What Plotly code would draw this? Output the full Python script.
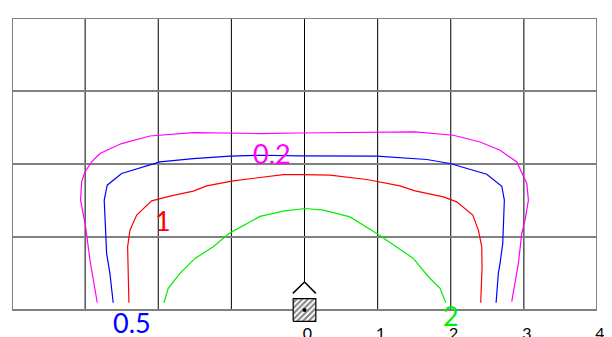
import plotly.graph_objects as go

# contour levels (label, colour, label position)
levels = ["0.2", "0.5", "1", "2"]
colors = ["#ff00ff", "#0000ff", "#ff0000", "#00ee00"]

x_02 = [-2.834, -2.934, -2.993, -3.062, -3.048, -3.003, -2.911, -2.798, -2.501, -2.114, -1.521, -0.609,
        -0.062, 0.988, 1.306, 1.512, 2.036, 2.401, 2.674, 2.903, 3.040, 3.062, 3.016, 2.971, 2.925, 2.834]
y_02 = [0.10, 0.684, 1.14, 1.505, 1.755, 1.892, 2.029, 2.144, 2.280, 2.384, 2.431, 2.417,
        2.425, 2.431, 2.439, 2.439, 2.394, 2.302, 2.189, 2.029, 1.733, 1.505, 1.231, 1.049, 0.639, 0.114]

x_05 = [-2.616, -2.661, -2.706, -2.729, -2.739, -2.698, -2.501, -1.977, -1.521, -1.019, -0.609,
        -0.062, 0.988, 1.672, 1.990, 2.492, 2.698, 2.733, 2.711, 2.674, 2.651, 2.620]
y_05 = [0.10, 0.502, 0.776, 1.231, 1.505, 1.710, 1.870, 2.029, 2.075, 2.107, 2.120,
        2.111, 2.107, 2.062, 2.007, 1.860, 1.696, 1.505, 0.912, 0.639, 0.502, 0.10]

x_1 = [-2.401, -2.419, -2.387, -2.295, -2.090, -1.840, -1.521, -1.338, -0.974, -0.609, -0.290,
       -0.016, 0.349, 0.851, 1.306, 1.512, 1.899, 2.082, 2.301, 2.378, 2.424, 2.428, 2.410]
y_1 = [0.10, 0.866, 1.094, 1.300, 1.495, 1.560, 1.628, 1.700, 1.769, 1.815, 1.856,
       1.856, 1.847, 1.788, 1.700, 1.632, 1.550, 1.482, 1.300, 1.094, 0.866, 0.592, 0.10]

x_2 = [-1.922, -1.863, -1.703, -1.498, -1.248, -1.019, -0.609, -0.290, 0.007, 0.257, 0.622,
       0.988, 1.488, 1.694, 1.854, 1.932]
y_2 = [0.10, 0.297, 0.502, 0.707, 0.866, 1.057, 1.282, 1.354, 1.391, 1.368, 1.276,
       1.049, 0.707, 0.456, 0.297, 0.10]

label_x = [-0.449, -2.364, -1.932, 2.0]
label_y = [2.148, -0.164, 1.227, -0.068]

grid_x = [-4, -3, -2, -1, 0, 1, 2, 3, 4]
grid_y = [0, 1, 2, 3, 4]
tick_vals = [0, 1, 2, 3, 4]

# source symbol at the origin
src_x, src_y, src_half = 0.0, 0.0, 0.155
arrow_x = [-0.16, 0.0, 0.155]
arrow_y = [0.228, 0.383, 0.228]

fig = go.Figure()

for xs, ys, c in zip([x_02, x_05, x_1, x_2], [y_02, y_05, y_1, y_2], colors):
    fig.add_trace(go.Scatter(x=xs, y=ys, mode="lines", line=dict(color=c, width=1.2), hoverinfo="skip"))

sq_x = [src_x - src_half, src_x + src_half, src_x + src_half, src_x - src_half, src_x - src_half]
sq_y = [src_y - src_half, src_y - src_half, src_y + src_half, src_y + src_half, src_y - src_half]
fig.add_trace(go.Scatter(
    x=sq_x, y=sq_y, mode="lines", fill="toself", fillcolor="white",
    fillpattern=dict(shape="/", fgcolor="black", bgcolor="white", size=4, solidity=0.5),
    line=dict(color="black", width=1.2), hoverinfo="skip",
))
fig.add_trace(go.Scatter(x=[src_x], y=[src_y], mode="markers", marker=dict(color="black", size=4), hoverinfo="skip"))
fig.add_trace(go.Scatter(x=arrow_x, y=arrow_y, mode="lines", line=dict(color="black", width=1.5), hoverinfo="skip"))

# grid
shapes = []
for gx in grid_x:
    y0 = arrow_y[1] if gx == 0 else 0
    col, w = ("#808080", 2) if gx == 4 else ("black", 1)
    shapes.append(dict(type="line", x0=gx, x1=gx, y0=y0, y1=4, line=dict(color=col, width=w), layer="below"))
for gy in grid_y:
    shapes.append(dict(type="line", x0=-4, x1=4, y0=gy, y1=gy, line=dict(color="#808080", width=2), layer="below"))

for t, c, lx, ly in zip(levels, colors, label_x, label_y):
    fig.add_annotation(x=lx, y=ly, text=t, showarrow=False, font=dict(family="Lato", size=27, color=c))

# page body adds an 8px margin, so the figure is sized to the visible window
fig.update_layout(
    width=604, height=329,
    margin=dict(l=4, r=15, t=9.5, b=0, autoexpand=False),
    plot_bgcolor="white", paper_bgcolor="white",
    showlegend=False,
    shapes=shapes,
    font=dict(family="Lato"),
)
fig.update_xaxes(
    range=[-4, 4], showgrid=False, zeroline=False, showline=False, ticks="",
    tickvals=tick_vals, ticktext=[str(v) for v in tick_vals],
    tickfont=dict(family="Lato", size=16, color="black"),
    anchor="free", position=27 / 319.5, ticklabelstandoff=12, ticklabelshift=3,
    automargin=False,
)
fig.update_yaxes(range=[-0.3694, 4], visible=False)

fig.write_html("out.html")
